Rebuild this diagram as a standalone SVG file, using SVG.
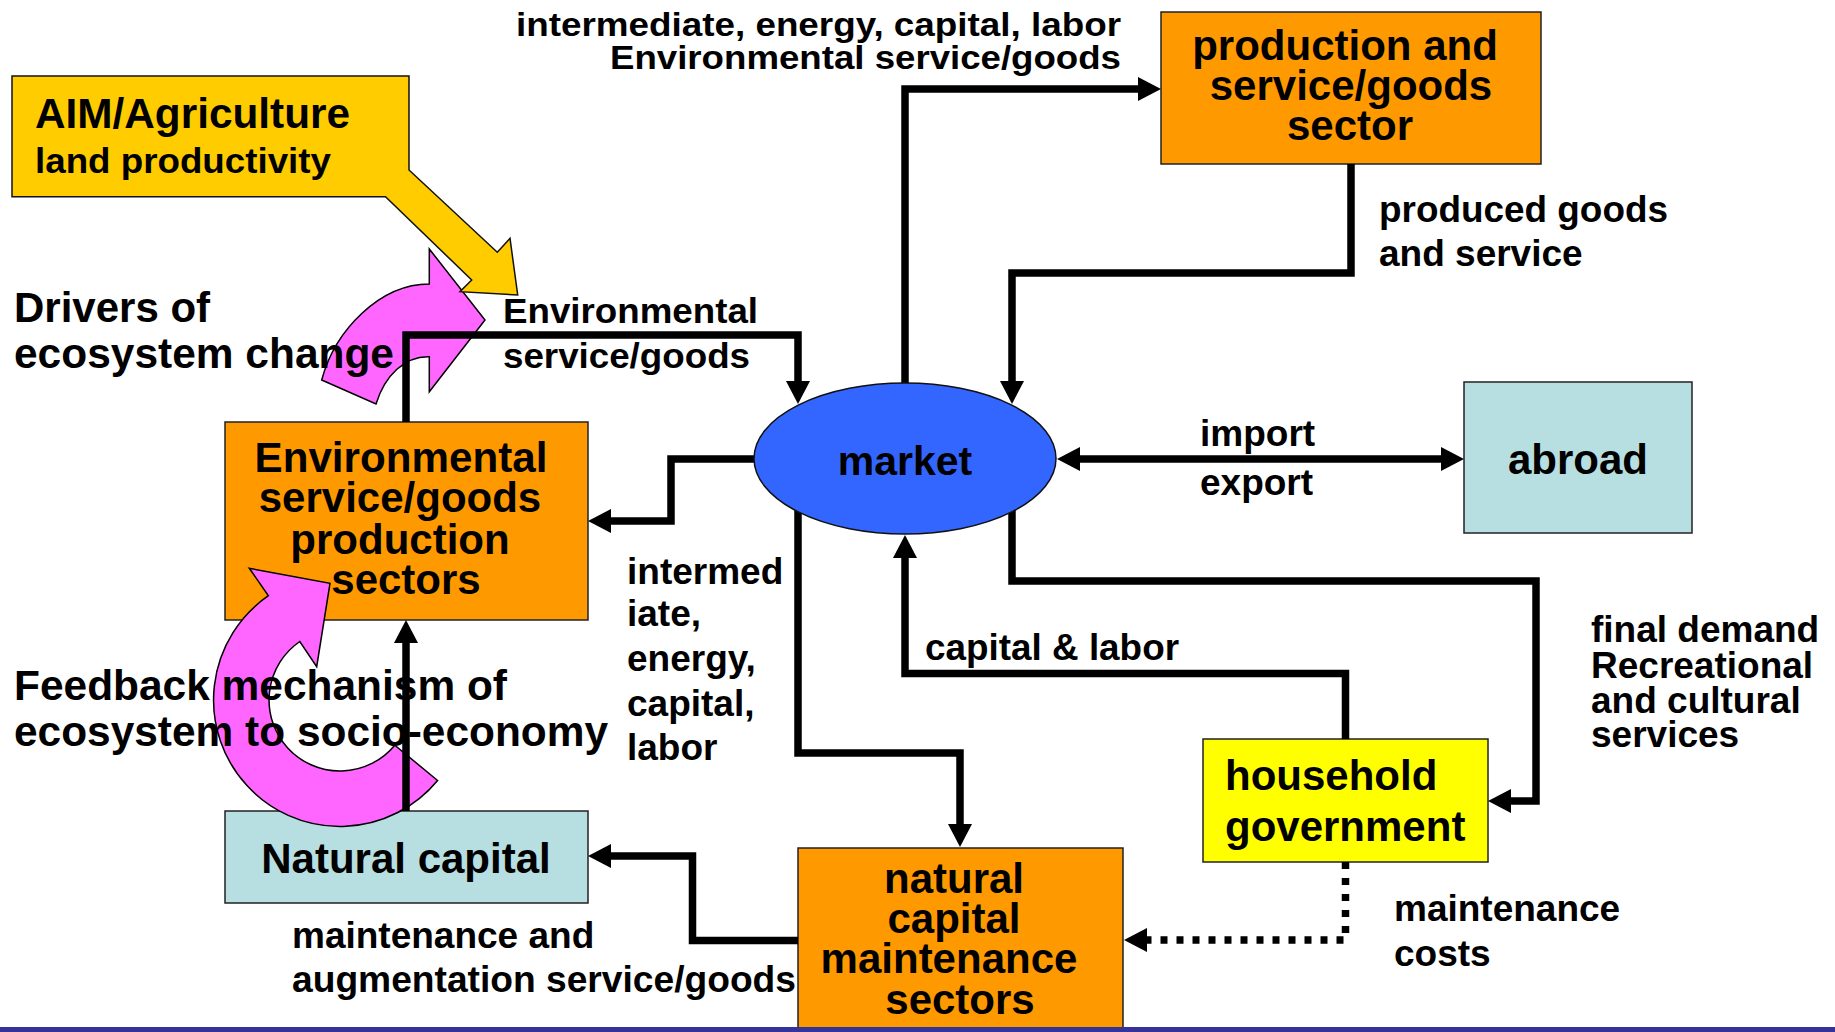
<svg xmlns="http://www.w3.org/2000/svg" width="1835" height="1032" viewBox="0 0 1835 1032">
<style>
.box{stroke:#222;stroke-width:1.5}
.orange{fill:#FF9900}
.cyan{fill:#B7DEE1}
.n{font-family:"Liberation Sans",Arial,sans-serif;font-weight:bold;font-size:42px;fill:#000}
.l{font-family:"Liberation Sans",Arial,sans-serif;font-weight:bold;font-size:37px;fill:#000}
.c{text-anchor:middle}
.conn{fill:none;stroke:#000;stroke-width:7.5;stroke-linejoin:miter;stroke-linecap:butt;marker-end:url(#ah)}
.pink{fill:#FF66FF;stroke:#000;stroke-width:1.5;stroke-linejoin:miter}
</style>
<defs>
<marker id="ah" markerUnits="userSpaceOnUse" markerWidth="24" markerHeight="24" refX="0" refY="12" orient="auto-start-reverse" overflow="visible">
<path d="M0,0 L23,12 L0,24 Z" fill="#000"/>
</marker>
</defs>
<rect x="0" y="0" width="1835" height="1032" fill="#fff"/>

<g id="env-production">
<rect class="box orange" x="225" y="422" width="363" height="198"/>
<text class="n c" x="401" y="472" textLength="293" lengthAdjust="spacingAndGlyphs">Environmental</text>
<text class="n c" x="400" y="512">service/goods</text>
<text class="n c" x="400" y="554">production</text>
<text class="n c" x="406" y="594">sectors</text>
</g>
<g id="natural-capital">
<rect class="box cyan" x="225" y="811" width="363" height="92"/>
<text class="n c" x="406" y="873">Natural capital</text>
</g>
<g id="production-sector">
<rect class="box orange" x="1161" y="12" width="380" height="152"/>
<text class="n c" x="1345" y="60">production and</text>
<text class="n c" x="1351" y="100">service/goods</text>
<text class="n c" x="1350" y="140">sector</text>
</g>
<g id="abroad">
<rect class="box cyan" x="1464" y="382" width="228" height="151"/>
<text class="n c" x="1578" y="474">abroad</text>
</g>
<g id="household">
<rect class="box" fill="#FFFF00" x="1203" y="739" width="285" height="123"/>
<text class="n" x="1225" y="790">household</text>
<text class="n" x="1225" y="841">government</text>
</g>
<g id="maintenance-sectors">
<rect class="box orange" x="798" y="848" width="325" height="200"/>
<text class="n c" x="954" y="893">natural</text>
<text class="n c" x="954" y="933">capital</text>
<text class="n c" x="949" y="973">maintenance</text>
<text class="n c" x="960" y="1014">sectors</text>
</g>

<g id="pink-arrows">
<path class="pink" d="M321.7,380 C335,330 380,284 429.3,284 L429.3,249 L485,320 L429.3,391.7 L429.3,356.7 C405,356 385,375 376,404 Z"/>
<path class="pink" d="M437.6,780.5 A126.5,126.5 0 1 1 268.4,595.7 L249.3,568.3 L330,583.3 L316.7,666.7 L299.8,641.5 A71,71 0 1 0 394.8,745.2 Z"/>
</g>

<g id="aim-agriculture">
<polygon fill="#FFCC00" stroke="#111" stroke-width="1.5" points="12,76 409,76 409,170 497.3,252.3 510,238.3 517.7,295 460,291.7 471.7,280 385.5,196.7 12,196.7"/>
<text class="n" x="35" y="128" font-size="40" textLength="315" lengthAdjust="spacingAndGlyphs">AIM/Agriculture</text>
<text class="n" x="35" y="173" style="font-size:35px" textLength="296" lengthAdjust="spacingAndGlyphs">land productivity</text>
</g>

<g id="connectors">
<path class="conn" d="M905,390 V89 H1138"/>
<path class="conn" d="M1351,164 V273 H1012 V381"/>
<path class="conn" d="M406,422 V335 H798 V381"/>
<path class="conn" d="M760,459 H671 V521 H611"/>
<path class="conn" d="M798,505 V753 H960 V824"/>
<path class="conn" d="M1345.5,739 V673.5 H905 V558"/>
<path class="conn" d="M1012,505 V581 H1536 V801 H1511"/>
<path class="conn" d="M1080,459 H1441" style="marker-start:url(#ah)"/>
<path class="conn" d="M798,940.5 H692.5 V856 H611"/>
<path class="conn" d="M1345.5,862 V940 H1147" stroke-dasharray="7 9"/>
<path class="conn" d="M406,811 V643"/>
</g>

<g id="market">
<ellipse cx="905" cy="458.5" rx="151" ry="75.5" fill="#3366FF" stroke="#111" stroke-width="1.5"/>
<text class="n c" x="905" y="475" style="font-size:41px">market</text>
</g>

<g id="labels">
<text class="l" x="1121" y="36" text-anchor="end" style="font-size:33px" textLength="605" lengthAdjust="spacingAndGlyphs">intermediate, energy, capital, labor</text>
<text class="l" x="1121" y="68.5" text-anchor="end" style="font-size:33px" textLength="511" lengthAdjust="spacingAndGlyphs">Environmental service/goods</text>
<text class="l" x="503" y="322.7" style="font-size:35px" textLength="255" lengthAdjust="spacingAndGlyphs">Environmental</text>
<text class="l" x="503" y="367.7" style="font-size:35px" textLength="247" lengthAdjust="spacingAndGlyphs">service/goods</text>
<text class="n" x="14" y="322">Drivers of</text>
<text class="n" x="14" y="368" textLength="380" lengthAdjust="spacingAndGlyphs">ecosystem change</text>
<text class="l" x="1379" y="222" textLength="289" lengthAdjust="spacingAndGlyphs">produced goods</text>
<text class="l" x="1379" y="266">and service</text>
<text class="l" x="1200" y="446">import</text>
<text class="l" x="1200" y="495">export</text>
<text class="l" x="627" y="583.5">intermed</text>
<text class="l" x="627" y="626">iate,</text>
<text class="l" x="627" y="671">energy,</text>
<text class="l" x="627" y="716">capital,</text>
<text class="l" x="627" y="760">labor</text>
<text class="l" x="925" y="660" textLength="254" lengthAdjust="spacingAndGlyphs">capital &amp; labor</text>
<text class="l" x="1591" y="642">final demand</text>
<text class="l" x="1591" y="678">Recreational</text>
<text class="l" x="1591" y="712.5">and cultural</text>
<text class="l" x="1591" y="747">services</text>
<text class="n" x="14" y="700" textLength="493" lengthAdjust="spacingAndGlyphs">Feedback mechanism of</text>
<text class="n" x="14" y="746" textLength="594" lengthAdjust="spacingAndGlyphs">ecosystem to socio-economy</text>
<text class="l" x="1394" y="921">maintenance</text>
<text class="l" x="1394" y="966">costs</text>
<text class="l" x="292" y="948">maintenance and</text>
<text class="l" x="292" y="991.5" textLength="504" lengthAdjust="spacingAndGlyphs">augmentation service/goods</text>
</g>

<rect x="0" y="1027" width="1835" height="5" fill="#333399"/>
</svg>
